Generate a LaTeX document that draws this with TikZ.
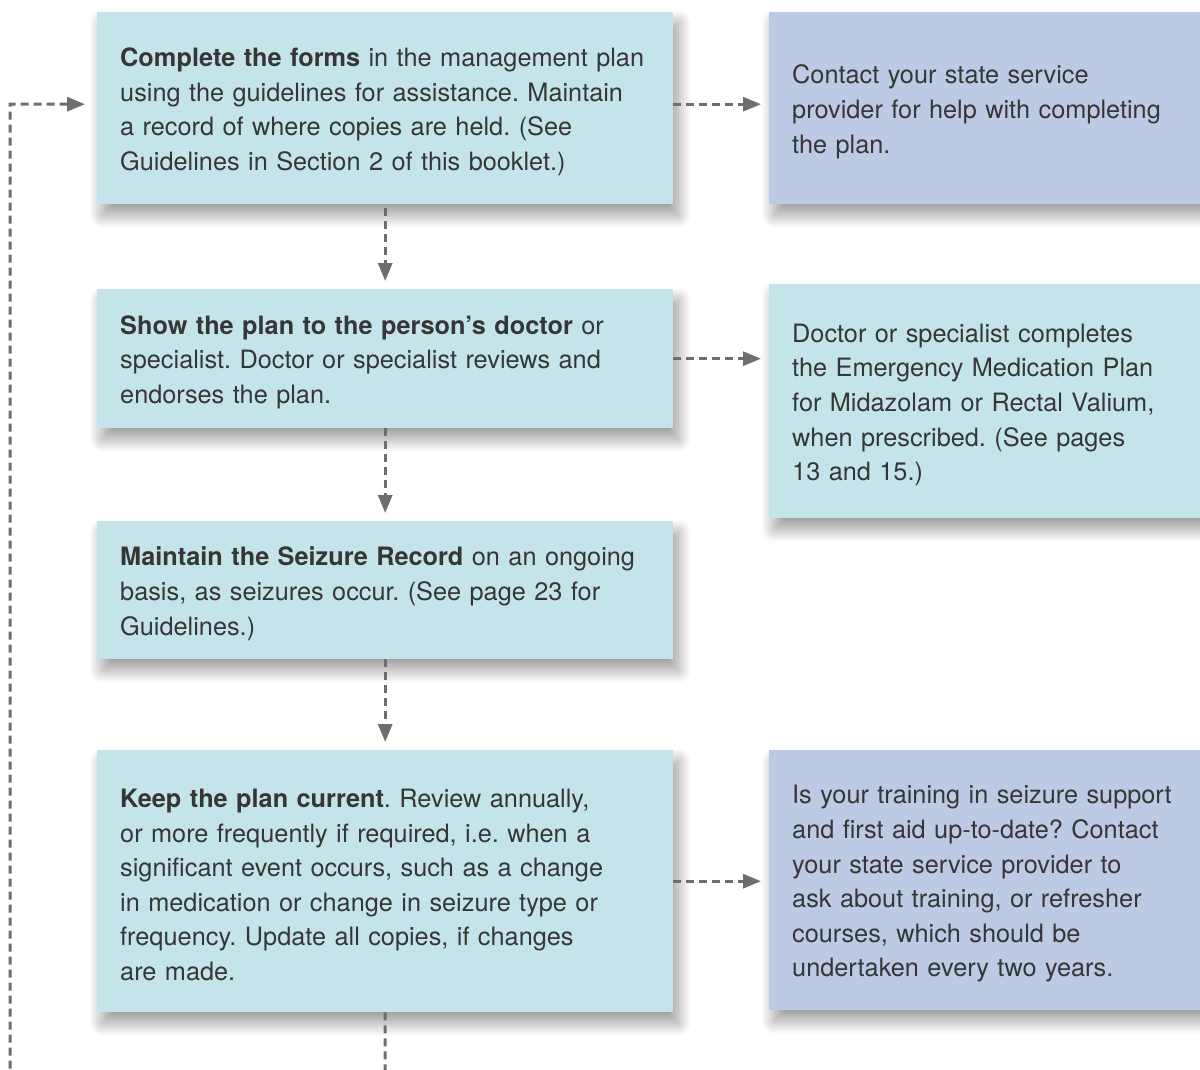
\documentclass[tikz,border=0pt]{standalone}
\usepackage{fontspec}
\setmainfont{TeX Gyre Heros}
\usetikzlibrary{arrows.meta}
\usetikzlibrary{shadows.blur}
\definecolor{stepcyan}{HTML}{C5E4E9}
\definecolor{notelav}{HTML}{BCCAE3}
\definecolor{flowgray}{HTML}{6D6E71}
\definecolor{inkgray}{HTML}{363636}
\frenchspacing

\begin{document}
\begin{tikzpicture}[x=1pt,y=-1pt,
  box/.style={anchor=north west,inner xsep=23pt,inner ysep=0pt,align=left,text=inkgray,
    font={\fontsize{25.3}{34.6}\selectfont},execute at begin node={\rule{0pt}{26pt}},
    blur shadow={shadow xshift=5pt,shadow yshift=-11pt,shadow blur radius=13pt,shadow blur steps=24,shadow opacity=40}},
  stepbox/.style={box,fill=stepcyan,minimum width=576pt,text width=530pt},
  notebox/.style={box,fill=notelav,minimum width=460pt,text width=414pt},
  flow/.style={draw=flowgray,line width=3pt,dash pattern=on 8pt off 5pt,
    -{Triangle[length=18pt,width=14pt]},shorten >=8pt}]
\useasboundingbox (0,0) rectangle (1200,1070);
\node[stepbox,minimum height=192pt] (complete) at (97,12) {\textbf{Complete the forms} in the management plan\\ using the guidelines for assistance. Maintain\\ a record of where copies are held. (See\\ Guidelines in Section 2 of this booklet.)};
\node[notebox,minimum height=192pt] (contact) at (769,12) {Contact your state service\\ provider for help with completing\\ the plan.};
\node[stepbox,minimum height=139pt] (show) at (97,289) {\textbf{Show the plan to the person’s doctor} or\\ specialist. Doctor or specialist reviews and\\ endorses the plan.};
\node[notebox,fill=stepcyan,minimum height=234pt] (doctor) at (769,284) {Doctor or specialist completes\\ the Emergency Medication Plan\\ for Midazolam or Rectal Valium,\\ when prescribed. (See pages\\ 13 and 15.)};
\node[stepbox,minimum height=138pt] (maintain) at (97,521) {\textbf{Maintain the Seizure Record} on an ongoing\\ basis, as seizures occur. (See page 23 for\\ Guidelines.)};
\node[stepbox,minimum height=262pt] (keep) at (97,750) {\textbf{Keep the plan current}. Review annually,\\ or more frequently if required, i.e. when a\\ significant event occurs, such as a change\\ in medication or change in seizure type or\\ frequency. Update all copies, if changes\\ are made.};
\node[notebox,minimum height=260pt] (training) at (769,750) {Is your training in seizure support\\ and first aid up-to-date? Contact\\ your state service provider to\\ ask about training, or refresher\\ courses, which should be\\ undertaken every two years.};
\coordinate (below) at (385,1100);
\coordinate (side) at (10,1100);
\draw[flow] ([yshift=4pt]complete.east) -- ([yshift=4pt]complete.east -| contact.west);
\draw[flow] (show.east) -- (show.east -| doctor.west);
\draw[flow] (keep.east) -- (keep.east -| training.west);
\draw[flow,shorten <=4pt] (complete) -- (show);
\draw[flow] (show) -- (maintain);
\draw[flow] (maintain) -- (keep);
\draw[flow,shorten >=12pt] (keep.south) -- (below) -- (side) |- ([yshift=4pt]complete.west);
\end{tikzpicture}
\end{document}
